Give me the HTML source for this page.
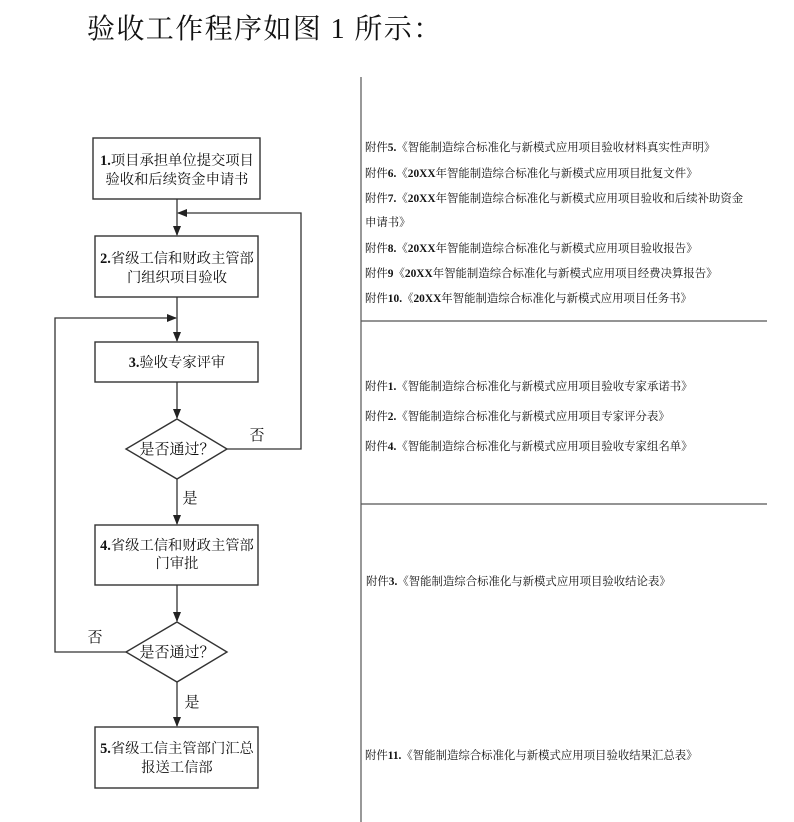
<!DOCTYPE html>
<html><head><meta charset="utf-8"><style>
html,body{margin:0;padding:0;background:#fff;}
svg{display:block;}
.t{font-family:"Liberation Serif","Noto Serif CJK SC",serif;fill:#111;}
.b{font-weight:bold;}
</style></head><body>
<svg width="794" height="822" viewBox="0 0 794 822" xmlns="http://www.w3.org/2000/svg">
<defs>
<marker id="ah" markerWidth="10" markerHeight="8" refX="9" refY="4" orient="auto" markerUnits="userSpaceOnUse">
<path d="M0,0 L10,4 L0,8 Z" fill="#222"/>
</marker>
</defs>
<text class="t" x="87" y="38" font-size="28" letter-spacing="1.4">验收工作程序如图 1 所示：</text>

<g fill="#fff" stroke="#333" stroke-width="1.4">
<rect x="93" y="138" width="167" height="61"/>
<rect x="95" y="236" width="163" height="61"/>
<rect x="95" y="342" width="163" height="40"/>
<polygon points="177,419 227,449 177,479 126,449"/>
<rect x="95" y="525" width="163" height="60"/>
<polygon points="177,622 227,652 177,682 126,652"/>
<rect x="95" y="727" width="163" height="61"/>
</g>

<g fill="none" stroke="#333" stroke-width="1.3">
<line x1="177" y1="199" x2="177" y2="235" marker-end="url(#ah)"/>
<polyline points="227,449 301,449 301,213 178,213" marker-end="url(#ah)"/>
<line x1="177" y1="297" x2="177" y2="341" marker-end="url(#ah)"/>
<polyline points="126,652 55,652 55,318 176,318" marker-end="url(#ah)"/>
<line x1="177" y1="382" x2="177" y2="418" marker-end="url(#ah)"/>
<line x1="177" y1="479" x2="177" y2="524" marker-end="url(#ah)"/>
<line x1="177" y1="585" x2="177" y2="621" marker-end="url(#ah)"/>
<line x1="177" y1="682" x2="177" y2="726" marker-end="url(#ah)"/>
</g>

<g class="t" font-size="14.3" text-anchor="middle">
<text x="177" y="165"><tspan class="b">1.</tspan>项目承担单位提交项目</text>
<text x="177" y="184">验收和后续资金申请书</text>
<text x="177" y="263"><tspan class="b">2.</tspan>省级工信和财政主管部</text>
<text x="177" y="282">门组织项目验收</text>
<text x="177" y="367"><tspan class="b">3.</tspan>验收专家评审</text>
<text x="177" y="550"><tspan class="b">4.</tspan>省级工信和财政主管部</text>
<text x="177" y="568">门审批</text>
<text x="177" y="753"><tspan class="b">5.</tspan>省级工信主管部门汇总</text>
<text x="177" y="772">报送工信部</text>
</g>
<g class="t" font-size="15" text-anchor="middle">
<text x="177" y="454">是否通过？</text>
<text x="177" y="657">是否通过？</text>
<text x="257" y="440">否</text>
<text x="95" y="642">否</text>
<text x="190" y="503">是</text>
<text x="192" y="707">是</text>
</g>

<g stroke="#555" stroke-width="1.2">
<line x1="361" y1="77" x2="361" y2="822"/>
<line x1="361" y1="321" x2="767" y2="321"/>
<line x1="361" y1="504" x2="767" y2="504"/>
</g>

<g class="t" font-size="11.4">
<text x="365" y="151">附件<tspan class="b">5.</tspan>《智能制造综合标准化与新模式应用项目验收材料真实性声明》</text>
<text x="365" y="177">附件<tspan class="b">6.</tspan>《<tspan class="b">20XX</tspan>年智能制造综合标准化与新模式应用项目批复文件》</text>
<text x="365" y="202">附件<tspan class="b">7.</tspan>《<tspan class="b">20XX</tspan>年智能制造综合标准化与新模式应用项目验收和后续补助资金</text>
<text x="365" y="226">申请书》</text>
<text x="365" y="252">附件<tspan class="b">8.</tspan>《<tspan class="b">20XX</tspan>年智能制造综合标准化与新模式应用项目验收报告》</text>
<text x="365" y="277">附件<tspan class="b">9</tspan>《<tspan class="b">20XX</tspan>年智能制造综合标准化与新模式应用项目经费决算报告》</text>
<text x="365" y="302">附件<tspan class="b">10.</tspan>《<tspan class="b">20XX</tspan>年智能制造综合标准化与新模式应用项目任务书》</text>
<text x="365" y="390">附件<tspan class="b">1.</tspan>《智能制造综合标准化与新模式应用项目验收专家承诺书》</text>
<text x="365" y="420">附件<tspan class="b">2.</tspan>《智能制造综合标准化与新模式应用项目专家评分表》</text>
<text x="365" y="450">附件<tspan class="b">4.</tspan>《智能制造综合标准化与新模式应用项目验收专家组名单》</text>
<text x="366" y="585">附件<tspan class="b">3.</tspan>《智能制造综合标准化与新模式应用项目验收结论表》</text>
<text x="365" y="759">附件<tspan class="b">11.</tspan>《智能制造综合标准化与新模式应用项目验收结果汇总表》</text>
</g>
</svg>
</body></html>
